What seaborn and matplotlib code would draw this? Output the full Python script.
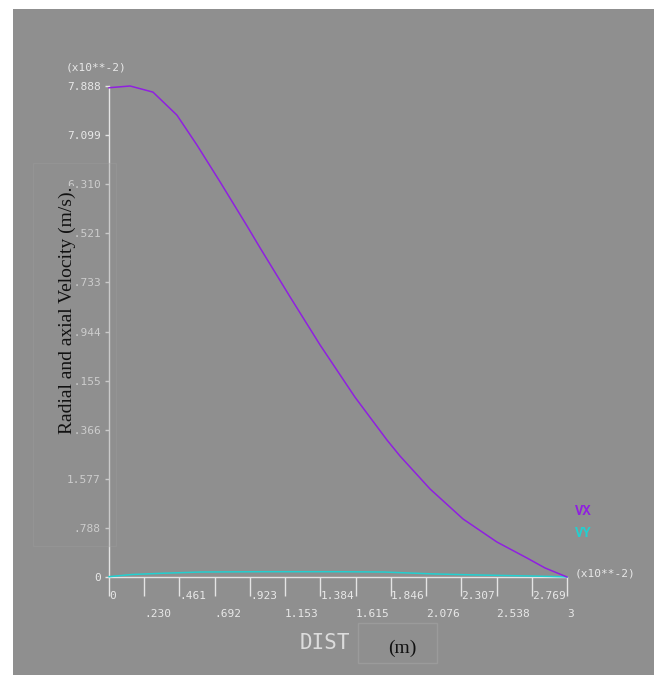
import matplotlib
matplotlib.use("Agg")
import matplotlib.pyplot as plt
import seaborn as sns
import pandas as pd
from matplotlib.patches import Rectangle

# Velocity profiles along the path (x and y in units of 10**-2)
dist_vx = [0.0, 0.138, 0.288, 0.445, 0.576, 0.727, 0.904, 0.989, 1.186, 1.382,
           1.611, 1.821, 1.906, 2.103, 2.319, 2.541, 2.738, 2.856, 3.0]
vx = [7.86, 7.888, 7.79, 7.42, 6.94, 6.35, 5.64, 5.29, 4.50, 3.73,
      2.89, 2.20, 1.944, 1.414, 0.932, 0.562, 0.305, 0.145, 0.0]

dist_vy = [0.0, 0.15, 0.35, 0.60, 1.0, 1.5, 1.80, 2.12, 2.36, 2.88, 3.0]
vy = [0.005, 0.04, 0.06, 0.08, 0.085, 0.085, 0.08, 0.05, 0.035, 0.01, 0.0]

x_max = 3.0
y_max = 7.888
x_tick_labels = ["0", ".230", ".461", ".692", ".923", "1.153", "1.384", "1.615",
                 "1.846", "2.076", "2.307", "2.538", "2.769", "3"]
y_tick_labels = ["0", ".788", "1.577", "2.366", "3.155", "3.944", "4.733",
                 "5.521", "6.310", "7.099", "7.888"]

BG = "#8f8f8f"
AXIS = "#e4e4e4"
TXT = "#e8e8e8"
PURPLE = "#9020e0"
CYAN = "#22d0d0"

plt.rcParams["font.family"] = ["DejaVu Sans Mono"]

W, H = 654, 675
fig = plt.figure(figsize=(W / 100, H / 100), dpi=100, facecolor="white")


def fx(px):
    return px / W


def fy(py):
    return 1 - py / H


# gray canvas with a thin white margin at left and top
fig.add_artist(Rectangle((fx(13), 0), 1 - fx(13), fy(9), transform=fig.transFigure,
                         facecolor=BG, edgecolor="none", zorder=-10))

ax = fig.add_axes([fx(109), fy(577), fx(567) - fx(109), fy(86) - fy(577)])
ax.patch.set_visible(False)

df_vx = pd.DataFrame({"DIST": dist_vx, "VX": vx})
df_vy = pd.DataFrame({"DIST": dist_vy, "VY": vy})
sns.lineplot(data=df_vy, x="DIST", y="VY", color=CYAN, lw=1.1, ax=ax, clip_on=False, zorder=3)
sns.lineplot(data=df_vx, x="DIST", y="VX", color=PURPLE, lw=1.1, ax=ax, clip_on=False, zorder=4)

ax.set_xlim(0, x_max)
ax.set_ylim(0, y_max)
ax.set_xlabel("")
ax.set_ylabel("")

for side in ("top", "right"):
    ax.spines[side].set_visible(False)
for side in ("left", "bottom"):
    ax.spines[side].set_color(AXIS)
    ax.spines[side].set_linewidth(1.0)

n_x = len(x_tick_labels)
x_ticks = [i * x_max / (n_x - 1) for i in range(n_x)]
ax.set_xticks(x_ticks[0::2], x_tick_labels[0::2])
ax.set_xticks(x_ticks[1::2], x_tick_labels[1::2], minor=True)
ax.tick_params(axis="x", which="both", direction="out", length=13.7, width=1.0,
               color=AXIS, labelcolor=TXT, labelsize=8)
ax.tick_params(axis="x", which="major", pad=-3.4)
ax.tick_params(axis="x", which="minor", pad=9.4)
for lbl in ax.get_xticklabels(which="both"):
    lbl.set_horizontalalignment("left")

n_y = len(y_tick_labels)
y_ticks = [i * y_max / (n_y - 1) for i in range(n_y)]
ax.set_yticks(y_ticks, y_tick_labels)
ax.tick_params(axis="y", direction="out", length=3, width=1.0, pad=2.9,
               color=AXIS, labelcolor=TXT, labelsize=8)

# axis multipliers
fig.text(fx(66), fy(67), "(x10**-2)", ha="left", va="center", fontsize=8, color=TXT)
fig.text(fx(575), fy(574), "(x10**-2)", ha="left", va="center", fontsize=8, color=TXT)

# series labels
fig.text(fx(575), fy(511), "VX", ha="left", va="center", fontsize=10,
         family="Liberation Mono", fontweight="bold", color=PURPLE)
fig.text(fx(575), fy(533), "VY", ha="left", va="center", fontsize=10,
         family="Liberation Mono", fontweight="bold", color=CYAN)

# x-axis title and unit box
fig.text(fx(325), fy(643), "DIST", ha="center", va="center", fontsize=15, color="#dcdcdc")
fig.add_artist(Rectangle((fx(358), fy(663)), fx(437) - fx(358), fy(623) - fy(663),
                         transform=fig.transFigure, facecolor="none",
                         edgecolor="#9b9b9b", lw=1.0, zorder=4))
fig.text(fx(402), fy(648), "(m)", ha="center", va="center", fontsize=14,
         family="Liberation Serif", color="#111111", zorder=5)

# y-axis title box
fig.add_artist(Rectangle((fx(33), fy(546)), fx(116) - fx(33), fy(163) - fy(546),
                         transform=fig.transFigure, facecolor=BG, alpha=0.3,
                         edgecolor="#a0a0a0", lw=1.0, zorder=4))
fig.text(fx(67), fy(310), "Radial and axial Velocity (m/s).", rotation=90,
         ha="center", va="center", fontsize=14, family="Liberation Serif",
         color="#111111", zorder=5,
         bbox=dict(facecolor=BG, edgecolor="none", pad=0.3))

fig.savefig("out.png", dpi=100, facecolor="white")
